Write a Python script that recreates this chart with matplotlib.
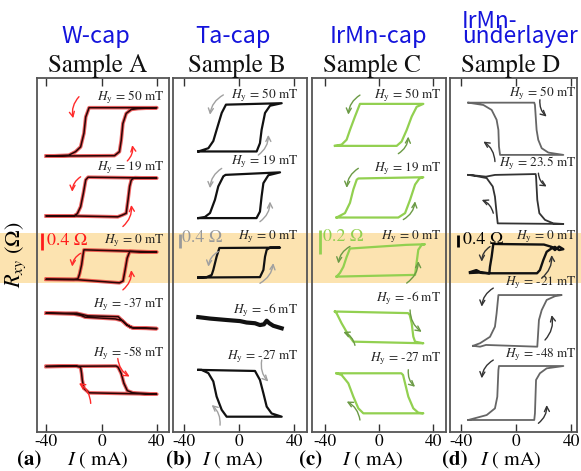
import matplotlib
matplotlib.use('Agg')
import matplotlib.pyplot as plt
from matplotlib.patches import Rectangle

plt.rcParams['font.family'] = ['STIXGeneral', 'DejaVu Serif']
plt.rcParams['mathtext.fontset'] = 'stix'
plt.rcParams['axes.unicode_minus'] = False

# ---------------- data ----------------
# Sample A (W-cap): loops, I in mA, R in Ohm relative to each loop's lower level
A1_I = [-40, 9.3, 12.9, 14.2, 15.4, 17.8, 21.5, 26.4, 40, -9.1, -11.5, -12.8, -15.2, -18.9, -23.8, -40]
A1_R = [0, 0.01, 0.10, 0.36, 0.74, 0.97, 1.06, 1.08, 1.10, 1.10, 0.89, 0.52, 0.21, 0.10, 0.02, 0]
A2_I = [-40, -20, 11.7, 15, 17.8, 19.1, 20.3, 21.5, 23.9, 40, -9.8, -11.5, -13.2, -15.2, -17.6, -20.1, -40]
A2_R = [0, 0, -0.02, 0.02, 0.06, 0.36, 0.67, 0.82, 0.87, 0.86, 0.88, 0.82, 0.52, 0.21, 0.05, 0, 0]
A3_I = [-40, -17, 12.9, 15.5, 17, 18.5, 20.3, 30, 40, 20, -12.8, -13.5, -14.5, -16, -17.2, -20, -40]
A3_R = [0, -0.01, -0.08, -0.04, 0.21, 0.48, 0.63, 0.62, 0.62, 0.64, 0.67, 0.55, 0.33, 0.12, 0.01, 0, 0]
A4_I = [-40, -20, -15, -12, 10, 15, 18, 21, 25, 40, 22, 18, 15, 12, -10, -14, -18, -40]
A4_R = [0.34, 0.32, 0.29, 0.25, 0.21, 0.17, 0.08, 0.02, 0, -0.01, 0.01, 0.08, 0.17, 0.26, 0.28, 0.31, 0.34, 0.34]
A5_I = [-40, 10.5, 12, 14.2, 16.1, 18.6, 22.7, 40, -9.1, -12.8, -14, -14.5, -15.2, -18.9, -40]
A5_R = [0.61, 0.62, 0.59, 0.45, 0.23, 0.06, 0.01, -0.02, 0.01, 0.11, 0.30, 0.45, 0.59, 0.62, 0.61]
A_fields = ["50", "19", "0", "-37", "-58"]

# Sample B (Ta-cap)
B1_I = [-29.8, 12.6, 15, 16.2, 18.7, 22.3, 30.8, -9.7, -12.8, -16.5, -18.9, -22.5, -29.8]
B1_R = [0, 0, 0.23, 0.60, 1.07, 1.27, 1.34, 1.30, 1.07, 0.60, 0.29, 0.09, 0]
B2_I = [-29.8, 12.5, 15, 16.2, 17.5, 21.1, 29.6, -10, -11.6, -15.3, -17.7, -21.3, -25, -29.8]
B2_R = [0, 0, 0.18, 0.60, 0.97, 1.19, 1.27, 1.20, 1.16, 0.88, 0.51, 0.14, 0.03, 0]
B3_I = [-29.8, 15, 17.5, 18.7, 19.9, 22.3, 29.6, -14.5, -16.5, -18.9, -20.1, -23.8, -29.8]
B3_R = [-0.01, 0, 0.20, 0.57, 0.76, 0.82, 0.82, 0.81, 0.57, 0.20, 0.06, 0, -0.01]
B4_I = [-29.8, -21.3, -9.2, 0.5, 5.3, 11.4, 15, 17.9, 19.9, 21.8, 24.7, 30.8]
B4_R = [0.30, 0.26, 0.22, 0.19, 0.15, 0.13, 0.08, 0.10, 0.20, 0.13, 0.06, -0.01]
B5_I = [-29.8, 11.4, 15, 17.5, 19.9, 23.5, 30.8, -9.2, -12.8, -16.5, -18.9, -22.5, -27.4, -29.8]
B5_R = [1.30, 1.27, 1.02, 0.65, 0.28, 0.09, 0, 0, 0.19, 0.56, 0.98, 1.21, 1.30, 1.30]
B_fields = ["50", "19", "0", "-6", "-27"]

# Sample C (IrMn-cap)
C1_I = [-32.6, 13.1, 16.7, 20.5, 24.2, 27.9, 32.8, -14.1, -17.8, -21.5, -24, -27.7, -32.6]
C1_R = [0, 0, 0.035, 0.13, 0.24, 0.32, 0.344, 0.344, 0.24, 0.13, 0.05, 0.01, 0]
C2_I = [-31.4, 14.3, 19.3, 23, 26.7, 29.9, 32.8, -15.3, -16.5, -19, -21.5, -25.2, -31.4]
C2_R = [0, 0, 0.036, 0.145, 0.27, 0.32, 0.33, 0.32, 0.31, 0.23, 0.12, 0.036, 0]
C3_I = [-31.4, 26.7, 27.9, 29.1, 31.6, 34, 20, -21.5, -24, -26.4, -28.9, -31.4]
C3_R = [0, 0.014, 0.12, 0.22, 0.26, 0.265, 0.26, 0.23, 0.16, 0.08, 0.03, 0]
C4_I = [-32.6, 21.5, 22.7, 24.2, 25.4, 26.7, 32.8, -19.0, -22.7, -27.7, -31.4, -32.6]
C4_R = [0.26, 0.247, 0.233, 0.164, 0.054, 0.013, 0, 0.013, 0.068, 0.164, 0.246, 0.26]
C5_I = [-31.4, 16.5, 17.8, 19.3, 21.7, 25.4, 29.1, 32.8, -11.6, -15.3, -19, -22.7, -27.7, -31.4]
C5_R = [0.328, 0.328, 0.314, 0.246, 0.137, 0.041, 0.005, 0, 0, 0.041, 0.137, 0.246, 0.314, 0.328]
C_fields = ["50", "19", "0", "-6", "-27"]

# Sample D (IrMn-underlayer)
D1_I = [-34.8, 13.0, 13.5, 14.7, 15.9, 18.4, 23.2, 34.1, -11.8, -12.6, -13.0, -14.3, -17.9, -23.9, -34.8]
D1_R = [1.80, 1.80, 1.72, 0.86, 0.52, 0.23, 0.08, 0, 0, 0.29, 0.86, 1.21, 1.55, 1.72, 1.80]
D2_I = [-34.8, -28, -22, -15.5, 14, 14.3, 15.2, 16.7, 20.8, 26.8, 34.1, -13.5, -14.3, -15.5, -17.1, -21.5, -31.2, -34.8]
D2_R = [1.69, 1.66, 1.63, 1.69, 1.72, 1.63, 0.83, 0.37, 0.14, 0.02, 0, 0.02, 0.37, 0.94, 1.29, 1.58, 1.67, 1.69]
D3_I = [-33.6, -29, -25, -20, 15, 17.1, 19.6, 22, 25.6, 28, 31, 34.1, 31, 28, 25.6, 20, -16.7, -17.9, -19.1, -19.6, -25, -33.6]
D3_R = [0.04, 0.11, 0.01, 0, 0, 0.11, 0.46, 0.74, 0.86, 0.91, 0.80, 0.83, 0.92, 0.80, 0.91, 0.99, 1.01, 0.57, 0.23, 0, 0.03, 0.01]
D4_I = [-31.4, -26.3, -22, 15.2, 15.5, 16.4, 18.4, 22, 28, 32.9, -13, -14.3, -15.5, -19.1, -26.3, -31.4]
D4_R = [0.03, 0, 0.06, 0, 0.23, 0.92, 1.26, 1.61, 1.74, 1.78, 1.78, 1.15, 0.69, 0.34, 0.12, 0.03]
D5_I = [-34.8, 13.0, 13.5, 14.3, 17.1, 22, 34.1, -12.6, -13.0, -13.8, -15.5, -21.5, -34.8]
D5_R = [0, 0, 0.23, 1.38, 1.61, 1.78, 1.86, 1.86, 1.72, 0.80, 0.40, 0.17, 0]
D_fields = ["50", "23.5", "0", "-21", "-48"]

x_ticks = [-40, 0, 40]

# ---------------- layout / style ----------------
W, H = 581, 471
fig = plt.figure(figsize=(W / 100, H / 100), dpi=100)


def fx(px):
    return px / W


def fy(py):
    return 1 - py / H


fig.patches.append(Rectangle((0, fy(283)), 1, 50 / H, transform=fig.transFigure,
                             facecolor='#FCE3B0', edgecolor='none', zorder=0))

panels = [
    dict(loops=[(A1_I, A1_R), (A2_I, A2_R), (A3_I, A3_R), (A4_I, A4_R), (A5_I, A5_R)],
         fields=A_fields, left=37, right=169, xlim=(-46.8, 48.8), ylim=(0, 8.045),
         offsets=[6.27, 4.91, 3.47, 2.36, 0.88], label_y=[7.61, 6.0, 4.35, 2.89, 1.80], label_x=45.7,
         color='#2a0505', under='#e83030', arrow='#ff2a2a', bar=(-43.1, 4.13, 0.4, '0.4 Ω', -39.8, 4.35, '#ff1a1a'),
         arrows=[(-16.4, 7.62, -20.6, 7.13), (18.6, 6.16, 22.2, 6.52), (-15.2, 5.80, -21.3, 5.46),
                 (15.4, 4.67, 21.5, 5.16), (-15.2, 4.06, -21.3, 3.76), (15.4, 3.23, 21.5, 3.68),
                 (11.7, 1.67, 20.3, 1.26), (-7.9, 0.65, -16.4, 1.11)],
         tag='(a)', tagx=29.5, ix=98),
    dict(loops=[(B1_I, B1_R), (B2_I, B2_R), (B3_I, B3_R), (B4_I, B4_R), (B5_I, B5_R)],
         fields=B_fields, left=173, right=307, xlim=(-48.2, 49.2), ylim=(0, 9.83),
         offsets=[7.79, 5.94, 4.30, 2.89, 0.425], label_y=[9.36, 7.51, 5.43, 3.39, 2.09], label_x=42.9,
         color='#111111', under=None, arrow='#a0a0a0', bar=(-43.1, 5.10, 0.4, '0.4 Ω', -41.6, 5.38, '#999999'),
         arrows=[(-11.6, 9.36, -21.3, 8.81), (13.8, 7.69, 21.1, 8.25), (-12.8, 7.32, -21.3, 6.77),
                 (15, 5.84, 22.3, 6.40), (-15.3, 5.01, -22.5, 4.59), (15, 4.13, 24.7, 4.69),
                 (16.3, 2.0, 21.1, 1.40), (-14, 0.19, -20.1, 0.75)],
         tag='(b)', tagx=178.5, ix=233),
    dict(loops=[(C1_I, C1_R), (C2_I, C2_R), (C3_I, C3_R), (C4_I, C4_R), (C5_I, C5_R)],
         fields=C_fields, left=312, right=446, xlim=(-49.6, 49.6), ylim=(0, 2.90),
         offsets=[2.344, 1.757, 1.273, 0.727, 0.153], label_y=[2.76, 2.16, 1.60, 1.10, 0.60], label_x=46.3,
         color='#92D050', under=None, arrow='#6b9a45', bar=(-43.7, 1.456, 0.2, '0.2 Ω', -41.3, 1.60, '#92D050'),
         arrows=[(-14.1, 2.76, -22.7, 2.60), (14.3, 2.28, 21.7, 2.42), (-15.3, 2.16, -23.9, 2.0),
                 (18, 1.74, 26.7, 1.89), (-21.5, 1.52, -30.1, 1.38), (20.5, 1.22, 29.1, 1.40),
                 (23, 1.0, 31.6, 0.82), (-17.8, 0.71, -26.4, 0.82), (21.7, 0.51, 26.7, 0.37),
                 (-14.1, 0.098, -23.9, 0.25)],
         tag='(c)', tagx=311, ix=372.5),
    dict(loops=[(D1_I, D1_R), (D2_I, D2_R), (D3_I, D3_R), (D4_I, D4_R), (D5_I, D5_R)],
         fields=D_fields, left=450, right=577, xlim=(-48.1, 44.0), ylim=(0, 12.2),
         offsets=[9.55, 7.17, 5.47, 2.94, 0.414], label_y=[11.68, 9.27, 6.73, 5.13, 2.66], label_x=43.8,
         color=['#666666', '#333333', '#111111', '#666666', '#666666'], under=None, arrow='#333333',
         bar=(-42.3, 6.39, 0.4, '0.4 Ω', -39.0, 6.62, '#000000'),
         arrows=[(17.1, 11.45, 22, 10.87), (-15.5, 9.32, -23.9, 10.01), (16, 8.92, 22, 8.46),
                 (-16.7, 7.54, -25.1, 8.0), (-19.1, 6.39, -25.1, 5.87), (18.4, 5.30, 25.6, 6.10),
                 (-16.7, 4.96, -25.1, 4.32), (20.8, 3.17, 25.6, 4.03), (-16.7, 2.48, -25.1, 1.85),
                 (16, 0.30, 22, 0.93)],
         tag='(d)', tagx=454.5, ix=511),
]

for p in panels:
    ax = fig.add_axes([fx(p['left']), fy(432), (p['right'] - p['left']) / W, (432 - 78) / H])
    ax.set_facecolor('none')
    ax.set_zorder(1)
    ax.set_xlim(*p['xlim'])
    ax.set_ylim(*p['ylim'])
    ax.set_xticks(x_ticks)
    ax.set_yticks([])
    ax.tick_params(axis='x', direction='in', top=True, bottom=True, length=6, width=1,
                   color='#333333', labelsize=12.5, pad=1.5)
    for s in ax.spines.values():
        s.set_color('#555555')
        s.set_linewidth(1.3)
    for k, ((xs, rs), off) in enumerate(zip(p['loops'], p['offsets'])):
        ys = [r + off for r in rs]
        col = p['color'][k] if isinstance(p['color'], list) else p['color']
        lw = 1.6
        if p['under']:
            ax.plot(xs, ys, color=p['under'], lw=2.6, alpha=0.75, solid_joinstyle='round')
            lw = 1.1
        if p['tag'] == '(b)' and k == 3:
            lw = 3.0
        if p['tag'] == '(d)':
            lw = 1.3 if k != 2 else 1.7
        ax.plot(xs, ys, color=col, lw=lw, solid_joinstyle='round')
    for f, ly in zip(p['fields'], p['label_y']):
        ax.text(p['label_x'], ly, r'$H_{\rm y}$ = ' + f + ' mT', ha='right', va='center',
                fontsize=9.5, color='#222222')
    for (tx, ty, hx, hy) in p['arrows']:
        ax.annotate('', xy=(hx, hy), xytext=(tx, ty),
                    arrowprops=dict(arrowstyle='->', color=p['arrow'], lw=1.0,
                                    connectionstyle='arc3,rad=0.25', shrinkA=0, shrinkB=0,
                                    mutation_scale=9))
    bx, by, bl, btxt, lx, lyy, bc = p['bar']
    ax.plot([bx, bx], [by, by + bl], color=bc, lw=2.0, solid_capstyle='butt')
    ax.text(lx, lyy, btxt, color=bc, fontsize=13, ha='left', va='center')
    fig.text(fx(p['tagx']), fy(465), p['tag'], fontsize=15, fontweight='bold', ha='center', va='baseline')
    fig.text(fx(p['ix']), fy(465), r'$I$ ( mA)', fontsize=14.5, ha='center', va='baseline')

blue = '#1414dc'
sans = ['Noto Sans CJK JP', 'DejaVu Sans']
fig.text(fx(96), fy(43), 'W-cap', color=blue, fontsize=17, family=sans, ha='center', va='baseline')
fig.text(fx(233), fy(43), 'Ta-cap', color=blue, fontsize=17, family=sans, ha='center', va='baseline')
fig.text(fx(378), fy(43), 'IrMn-cap', color=blue, fontsize=17, family=sans, ha='center', va='baseline')
fig.text(fx(462), fy(43), 'IrMn-\nunderlayer', color=blue, fontsize=16.3, family=sans, ha='left',
         va='baseline', multialignment='left', linespacing=0.58)

for name, cx in [('Sample A', 98), ('Sample B', 237), ('Sample C', 372), ('Sample D', 511)]:
    fig.text(fx(cx), fy(72), name, fontsize=18, ha='center', va='baseline', color='#111111')

fig.text(fx(16), fy(255), r'$R_{xy}$ ($\Omega$)', fontsize=16, rotation=90, ha='center', va='center')

fig.savefig('out.png', dpi=100)
